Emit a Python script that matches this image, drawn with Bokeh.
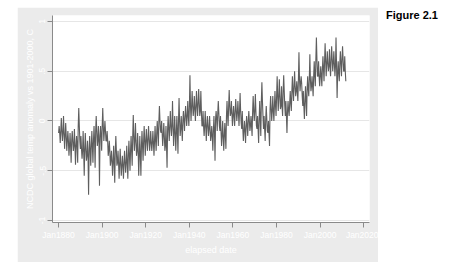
import numpy as np
from bokeh.plotting import figure
from bokeh.models import FixedTicker, Div, ColumnDataSource, Range1d
from bokeh.layouts import row
from bokeh.embed import file_html
from bokeh.resources import INLINE

# Yearly envelope of monthly NCDC global temperature anomaly (deg C vs 1901-2000)
years = list(range(1880, 2012))
hi = [-0.05, 0.03, 0.05, -0.02, -0.10, -0.12, -0.10, -0.08, -0.15, 0.13,
      -0.15, -0.10, -0.12, -0.20, -0.15, -0.10, -0.05, 0.05, -0.05, -0.05,
      0.13, 0.00, -0.10, -0.20, -0.30, -0.25, -0.15, -0.30, -0.28, -0.35,
      -0.30, -0.25, -0.20, -0.15, 0.06, -0.02, -0.12, -0.15, -0.10, -0.05,
      -0.08, -0.05, -0.10, -0.10, -0.05, 0.00, 0.15, 0.00, -0.02, -0.05,
      0.05, 0.10, 0.20, 0.05, 0.05, 0.23, 0.05, 0.10, 0.15, 0.20,
      0.46, 0.30, 0.25, 0.30, 0.32, 0.30, 0.10, 0.10, 0.05, 0.05,
      -0.05, 0.05, 0.10, 0.20, 0.05, 0.00, -0.02, 0.20, 0.31, 0.20,
      0.15, 0.22, 0.20, 0.28, 0.10, 0.00, 0.05, 0.10, 0.05, 0.25,
      0.27, 0.05, 0.20, 0.39, 0.05, 0.15, 0.00, 0.25, 0.25, 0.30,
      0.45, 0.42, 0.35, 0.46, 0.20, 0.20, 0.30, 0.45, 0.50, 0.40,
      0.69, 0.45, 0.30, 0.35, 0.45, 0.67, 0.45, 0.60, 0.84, 0.60,
      0.55, 0.65, 0.78, 0.70, 0.72, 0.75, 0.70, 0.84, 0.60, 0.70,
      0.75, 0.65]
mid = [-0.12, -0.10, -0.12, -0.15, -0.20, -0.25, -0.20, -0.25, -0.25, -0.05,
       -0.28, -0.30, -0.28, -0.35, -0.30, -0.25, -0.20, -0.10, -0.20, -0.15,
       -0.05, -0.10, -0.20, -0.30, -0.40, -0.42, -0.30, -0.42, -0.43, -0.45,
       -0.42, -0.42, -0.35, -0.30, -0.15, -0.20, -0.30, -0.35, -0.25, -0.20,
       -0.20, -0.18, -0.22, -0.22, -0.20, -0.12, 0.00, -0.12, -0.15, -0.25,
       -0.08, -0.05, -0.05, -0.12, -0.12, 0.00, -0.08, 0.00, 0.05, 0.05,
       0.15, 0.15, 0.12, 0.15, 0.18, 0.10, -0.05, -0.05, -0.05, -0.08,
       -0.15, -0.10, 0.02, 0.08, -0.10, -0.15, -0.15, 0.05, 0.15, 0.08,
       0.05, 0.10, 0.08, 0.10, -0.08, -0.10, -0.05, 0.00, -0.05, 0.10,
       0.10, -0.08, 0.02, 0.20, -0.08, 0.02, -0.12, 0.12, 0.10, 0.15,
       0.25, 0.25, 0.15, 0.30, 0.05, 0.10, 0.18, 0.30, 0.35, 0.30,
       0.42, 0.38, 0.15, 0.20, 0.32, 0.42, 0.35, 0.45, 0.62, 0.45,
       0.45, 0.52, 0.60, 0.58, 0.55, 0.62, 0.58, 0.55, 0.48, 0.58,
       0.62, 0.50]
lo = [-0.22, -0.20, -0.28, -0.30, -0.35, -0.42, -0.30, -0.44, -0.42, -0.20,
      -0.38, -0.55, -0.40, -0.74, -0.45, -0.42, -0.47, -0.25, -0.65, -0.30,
      -0.20, -0.20, -0.35, -0.45, -0.55, -0.62, -0.45, -0.58, -0.55, -0.58,
      -0.52, -0.58, -0.50, -0.45, -0.30, -0.35, -0.55, -0.55, -0.40, -0.35,
      -0.30, -0.30, -0.30, -0.35, -0.30, -0.25, -0.10, -0.25, -0.30, -0.47,
      -0.20, -0.15, -0.25, -0.30, -0.33, -0.15, -0.20, -0.10, -0.05, -0.05,
      0.00, 0.05, 0.00, 0.05, 0.05, -0.05, -0.15, -0.20, -0.15, -0.20,
      -0.30, -0.40, -0.10, -0.05, -0.25, -0.30, -0.28, -0.05, 0.05, -0.05,
      -0.05, 0.00, -0.05, -0.02, -0.20, -0.22, -0.15, -0.10, -0.15, 0.00,
      -0.05, -0.22, -0.15, 0.05, -0.20, -0.10, -0.25, 0.00, 0.00, 0.05,
      0.10, 0.12, 0.05, 0.15, -0.12, 0.05, 0.10, 0.20, 0.25, 0.20,
      0.30, 0.25, 0.02, 0.05, 0.25, 0.30, 0.25, 0.35, 0.45, 0.35,
      0.35, 0.40, 0.45, 0.50, 0.45, 0.50, 0.45, 0.23, 0.40, 0.45,
      0.50, 0.40]

x_ticks = [1880, 1900, 1920, 1940, 1960, 1980, 2000, 2020]
x_labels = ["Jan1880", "Jan1900", "Jan1920", "Jan1940", "Jan1960", "Jan1980", "Jan2000", "Jan2020"]
y_ticks = [-1, -0.5, 0, 0.5, 1]
y_labels = ["-1", "-.5", "0", ".5", "1"]

# monthly-like trace: each year swings between its high, typical and low readings
xs, ys = [], []
for yr, h, m, l in zip(years, hi, mid, lo):
    xs += [yr + 0.05, yr + 0.3, yr + 0.55, yr + 0.8]
    ys += [m, h, m, l]
src = ColumnDataSource(dict(x=xs, y=ys))

FONT = "Liberation Sans"
p = figure(width=361, height=255, output_backend="svg", toolbar_location=None,
           x_range=Range1d(1877.25, 2022.66), y_range=Range1d(-1.02, 1.06),
           min_border_left=35, min_border_right=9, min_border_top=8, min_border_bottom=40,
           border_fill_color="#ebebeb", background_fill_color="white",
           outline_line_color=None)
p.margin = (7, 0, 13, 17)

p.line("x", "y", source=src, line_color="#5e5e5e", line_width=1.1)

p.xgrid.grid_line_color = None
p.ygrid.grid_line_color = "#e6e6e6"
p.ygrid.ticker = FixedTicker(ticks=y_ticks)

p.xaxis.ticker = FixedTicker(ticks=x_ticks)
p.xaxis.major_label_overrides = {t: l for t, l in zip(x_ticks, x_labels)}
p.yaxis.ticker = FixedTicker(ticks=y_ticks)
p.yaxis.major_label_overrides = {t: l for t, l in zip(y_ticks, y_labels)}
p.yaxis.major_label_orientation = "vertical"

p.xaxis.axis_label = "elapsed date"
p.yaxis.axis_label = "NCDC global temp anomaly vs 1901-2000, C"

for ax in (p.xaxis[0], p.yaxis[0]):
    ax.axis_line_color = "#8a8a8a"
    ax.major_tick_line_color = "#8a8a8a"
    ax.minor_tick_line_color = None
    ax.major_tick_in = 0
    ax.major_tick_out = 5
    ax.major_label_text_color = "white"
    ax.major_label_text_font = FONT
    ax.major_label_text_font_size = "8.5px"
    ax.axis_label_text_color = "white"
    ax.axis_label_text_font = FONT
    ax.axis_label_text_font_size = "9px"
    ax.axis_label_text_font_style = "normal"
    ax.major_label_standoff = 2
    ax.axis_label_standoff = 2

div = Div(text="<span style=\"font-family:'Liberation Sans';font-weight:bold;font-size:11px;color:black;\">Figure 2.1</span>",
          margin=(7, 0, 0, 8), width=70, height=20)

layout = row(p, div)
open("out.html", "w").write(file_html(layout, INLINE))
